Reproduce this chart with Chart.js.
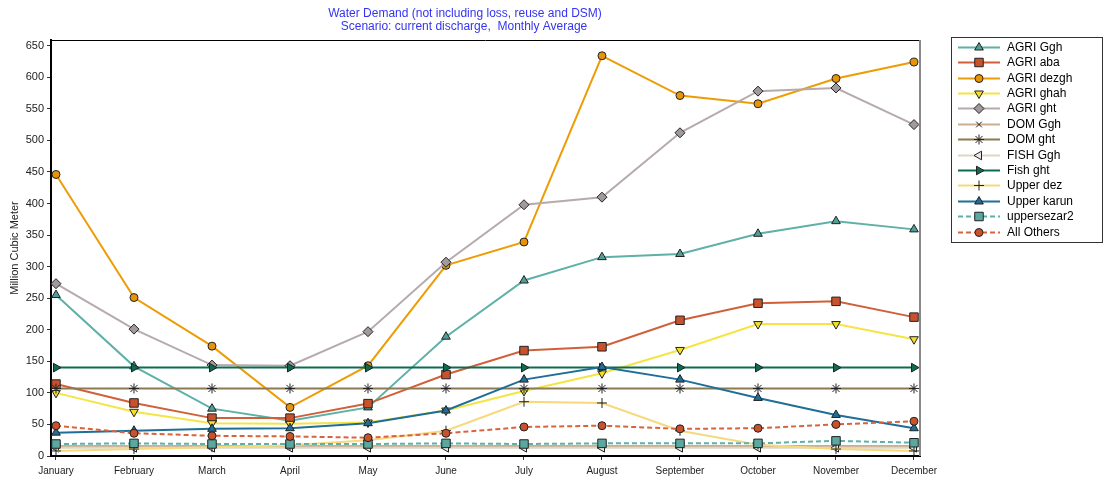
<!DOCTYPE html>
<html lang="en">

<head>
    <meta charset="UTF-8">
    <script src="https://cdn.jsdelivr.net/npm/chart.js"></script>
    <title>Water Demand</title>
    <style>
        body {
            margin: 0;
            background: #fff;
        }

        #wrap {
            width: 1104px;
            height: 477px;
        }
    </style>
</head>

<body>
    <div id="wrap"><canvas id="myChart" width="1104" height="477"></canvas></div>
    <script>
        const months = ['January', 'February', 'March', 'April', 'May', 'June',
            'July', 'August', 'September', 'October', 'November', 'December'];
        const yTicks = [0, 50, 100, 150, 200, 250, 300, 350, 400, 450, 500, 550, 600, 650];

        // monthly demand, million m3
        const agriGgh = [255, 142, 75, 56, 77, 189, 278, 315, 320, 352, 372, 359];
        const agriAba = [114, 84, 60, 60, 83, 129, 167, 173, 215, 242, 245, 220];
        const agriDezgh = [446, 251, 174, 77, 143, 302, 339, 634, 571, 558, 598, 624];
        const agriGhah = [100, 70, 52, 51, 53, 72, 103, 131, 168, 209, 209, 185];
        const agriGht = [273, 201, 144, 143, 197, 307, 398, 410, 512, 578, 583, 525];
        const domGgh = [16, 16, 16, 16, 16, 16, 16, 16, 16, 16, 16, 16];
        const domGht = [107, 107, 107, 107, 107, 107, 107, 107, 107, 107, 107, 107];
        const fishGgh = [13, 13, 13, 13, 13, 13, 13, 13, 13, 13, 13, 13];
        const fishGht = [140, 140, 140, 140, 140, 140, 140, 140, 140, 140, 140, 140];
        const upperDez = [8, 11, 14, 17, 25, 40, 86, 84, 40, 18, 11, 8];
        const upperKarun = [37, 40, 43, 44, 52, 72, 121, 141, 121, 92, 65, 44];
        const upperSezar2 = [19, 20, 19, 19, 19, 20, 19, 20, 20, 20, 24, 21];
        const allOthers = [48, 36, 32, 31, 29, 36, 46, 48, 43, 44, 50, 55];

        const series = [
            { label: 'AGRI Ggh', data: agriGgh, line: '#5fb0a6', fill: '#4f9f97', shape: 'triangle', rot: 0, r: 5 },
            { label: 'AGRI aba', data: agriAba, line: '#d0603a', fill: '#c8522c', shape: 'rect', rot: 0, r: 6 },
            { label: 'AGRI dezgh', data: agriDezgh, line: '#ee9c06', fill: '#e89408', shape: 'circle', rot: 0, r: 4 },
            { label: 'AGRI ghah', data: agriGhah, line: '#f4e444', fill: '#f2de2c', shape: 'triangle', rot: 180, r: 5 },
            { label: 'AGRI ght', data: agriGht, line: '#b6aaae', fill: '#a09a9c', shape: 'rectRot', rot: 0, r: 5 },
            { label: 'DOM Ggh', data: domGgh, line: '#cbae90', fill: '#000', shape: 'crossRot', rot: 0, r: 4 },
            { label: 'DOM ght', data: domGht, line: '#8c7a52', fill: '#000', shape: 'star', rot: 0, r: 5 },
            { label: 'FISH Ggh', data: fishGgh, line: '#ddd6c6', fill: '#e8e8e8', shape: 'triangle', rot: 270, r: 5 },
            { label: 'Fish ght', data: fishGht, line: '#0d6b52', fill: '#0d6b52', shape: 'triangle', rot: 90, r: 5 },
            { label: 'Upper dez', data: upperDez, line: '#f7d97c', fill: '#000', shape: 'cross', rot: 0, r: 5 },
            { label: 'Upper karun', data: upperKarun, line: '#1e6e98', fill: '#1e6e98', shape: 'triangle', rot: 0, r: 5 },
            { label: 'uppersezar2', data: upperSezar2, line: '#5fb0a6', fill: '#5aa8a0', shape: 'rect', rot: 0, r: 6, dash: [5, 3] },
            { label: 'All Others', data: allOthers, line: '#d8643e', fill: '#c8522c', shape: 'circle', rot: 0, r: 4, dash: [5, 3] }
        ];

        const datasets = series.map((s, i) => ({
            label: s.label,
            data: s.data.map((v, m) => ({ x: m, y: v })),
            borderColor: s.line,
            borderWidth: 2,
            borderDash: s.dash || [],
            pointStyle: s.shape,
            pointRotation: s.rot,
            pointRadius: s.r,
            pointBackgroundColor: s.fill,
            pointBorderColor: '#222',
            pointBorderWidth: 1,
            tension: 0,
            fill: false,
            order: series.length - i
        }));

        // frame, two-line title and boxed legend
        const extras = {
            id: 'extras',
            afterDraw(chart) {
                const ctx = chart.ctx;
                const a = chart.chartArea;
                ctx.save();
                ctx.lineWidth = 1;
                ctx.strokeStyle = '#000';
                ctx.beginPath();
                ctx.moveTo(a.left, a.top + 0.5);
                ctx.lineTo(a.right, a.top + 0.5);
                ctx.stroke();
                ctx.strokeStyle = '#8a8a8a';
                ctx.lineWidth = 2;
                ctx.beginPath();
                ctx.moveTo(a.right, a.top);
                ctx.lineTo(a.right, a.bottom);
                ctx.stroke();

                ctx.fillStyle = '#3434f2';
                ctx.font = '12px "Liberation Sans"';
                ctx.textAlign = 'center';
                ctx.textBaseline = 'middle';
                ctx.fillText('Water Demand (not including loss, reuse and DSM)', 465, 14);
                ctx.fillText('Scenario: current discharge,  Monthly Average', 464, 27);

                ctx.strokeStyle = '#333';
                ctx.lineWidth = 1;
                ctx.strokeRect(951.5, 37.5, 151, 205);
                ctx.textAlign = 'left';
                ctx.font = '12px "Liberation Sans"';
                series.forEach((s, i) => {
                    const y = Math.round(46.7 + i * 15.4) + 0.5;
                    ctx.strokeStyle = s.line;
                    ctx.lineWidth = 2;
                    ctx.setLineDash(s.dash || []);
                    ctx.beginPath();
                    ctx.moveTo(958, y);
                    ctx.lineTo(1000, y);
                    ctx.stroke();
                    ctx.setLineDash([]);
                    ctx.fillStyle = s.fill;
                    ctx.strokeStyle = '#222';
                    ctx.lineWidth = 1;
                    Chart.helpers.drawPoint(ctx, { pointStyle: s.shape, rotation: s.rot, radius: s.r, borderWidth: 1 }, 979, y);
                    ctx.fillStyle = '#000';
                    ctx.fillText(s.label, 1007, y);
                });
                ctx.restore();
            }
        };

        const tickFont = { family: 'Liberation Sans', size: 11 };

        new Chart(document.getElementById('myChart'), {
            type: 'line',
            data: { datasets },
            options: {
                responsive: false,
                animation: false,
                layout: { padding: { top: 40, right: 184, left: 0, bottom: 0 } },
                plugins: { legend: { display: false }, tooltip: { enabled: false } },
                scales: {
                    x: {
                        type: 'linear',
                        min: -0.064,
                        max: 11.077,
                        afterFit: s => { s.height = 21; },
                        afterBuildTicks: s => { s.ticks = months.map((m, i) => ({ value: i })); },
                        ticks: {
                            callback: v => months[v],
                            autoSkip: false,
                            maxRotation: 0,
                            padding: 5,
                            color: '#222',
                            font: { family: 'Liberation Sans', size: 10 }
                        },
                        grid: { drawOnChartArea: false, tickLength: 4, tickColor: '#333' },
                        border: { color: '#000', width: 2 }
                    },
                    y: {
                        min: 0,
                        max: 659,
                        afterFit: s => { s.width = 51; },
                        afterBuildTicks: s => { s.ticks = yTicks.map(v => ({ value: v })); },
                        ticks: { padding: 3, color: '#222', font: tickFont },
                        grid: { drawOnChartArea: false, tickLength: 4, tickColor: '#333' },
                        border: { color: '#000', width: 2 },
                        title: {
                            display: true,
                            text: 'Million Cubic Meter',
                            color: '#222',
                            font: tickFont,
                            padding: { top: 8 }
                        }
                    }
                }
            },
            plugins: [extras]
        });
    </script>
</body>

</html>
